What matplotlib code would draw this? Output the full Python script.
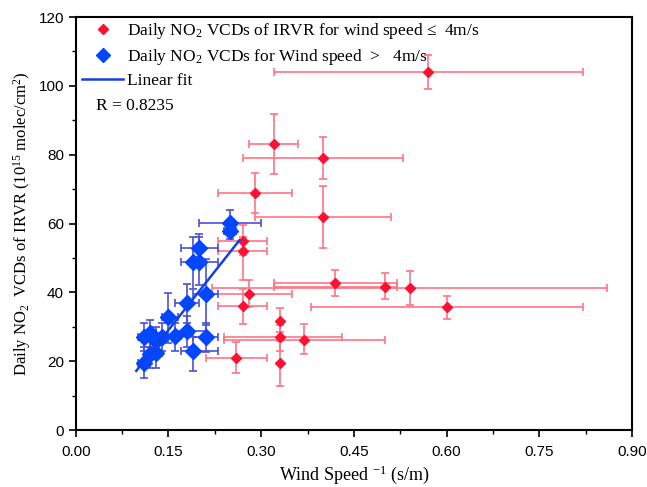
import matplotlib
matplotlib.use("Agg")
import matplotlib.pyplot as plt
import numpy as np
from matplotlib.lines import Line2D
from matplotlib.ticker import MultipleLocator, FormatStrFormatter

plt.rcParams["mathtext.fontset"] = "custom"
plt.rcParams["mathtext.rm"] = "Liberation Serif"
plt.rcParams["mathtext.it"] = "Liberation Serif:italic"

# Low wind speed (<= 4 m/s), red
red_x = [0.57, 0.32, 0.40, 0.29, 0.40, 0.27, 0.27, 0.28, 0.27, 0.26,
         0.33, 0.33, 0.33, 0.37, 0.42, 0.50, 0.54, 0.60]
red_y = [104, 83, 79, 69, 62, 55, 52, 39.6, 36, 21,
         31.8, 27, 19.5, 26.3, 42.6, 41.7, 41.2, 35.8]
red_xlo = [0.32, 0.28, 0.27, 0.23, 0.29, 0.23, 0.23, 0.22, 0.23, 0.21,
           0.33, 0.24, 0.33, 0.24, 0.32, 0.32, 0.22, 0.38]
red_xhi = [0.82, 0.36, 0.53, 0.35, 0.51, 0.31, 0.31, 0.35, 0.31, 0.31,
           0.33, 0.43, 0.33, 0.50, 0.52, 0.52, 0.86, 0.82]
red_ylo = [99, 74.4, 72.9, 63.1, 53, 51, 43.6, 35.7, 30.8, 16.7,
           28.5, 23, 12.8, 22, 38.9, 38.1, 36.3, 32.4]
red_yhi = [109, 91.7, 85.1, 74.6, 71, 59.6, 56, 43.6, 41, 25.7,
           35.4, 30.5, 26, 30.8, 46.4, 45.5, 46.2, 38.9]

# High wind speed (> 4 m/s), blue
blue_x = [0.25, 0.25, 0.20, 0.19, 0.20, 0.21, 0.18, 0.15, 0.18, 0.21,
          0.16, 0.19, 0.11, 0.12, 0.13, 0.14, 0.12, 0.13, 0.11]
blue_y = [60.3, 57.9, 53.0, 48.9, 48.9, 39.5, 36.8, 32.7, 28.8, 27.1,
          27.4, 22.9, 27.1, 28.3, 25.9, 27.1, 22.1, 22.3, 19.6]
blue_xlo = [0.20, 0.24, 0.17, 0.17, 0.19, 0.19, 0.16, 0.14, 0.16, 0.19,
            0.15, 0.17, 0.10, 0.11, 0.12, 0.13, 0.11, 0.12, 0.10]
blue_xhi = [0.30, 0.26, 0.23, 0.20, 0.23, 0.23, 0.20, 0.165, 0.21, 0.23,
            0.17, 0.23, 0.12, 0.13, 0.14, 0.15, 0.13, 0.14, 0.12]
blue_ylo = [57, 55.4, 49, 41, 42, 30.5, 31, 25.2, 24, 22.7,
            23, 17.1, 23, 24, 22, 23, 18, 18, 15]
blue_yhi = [64, 61, 57, 56, 56, 49.6, 42.3, 39.9, 33, 31,
            31, 27.1, 31, 32, 30, 31, 26, 26, 24]

# Linear fit of the blue points
fit_slope = 227.5
fit_intercept = -5.1
fit_x = [0.098, 0.265]
r_value = 0.8235

red_x, red_y = np.array(red_x), np.array(red_y)
blue_x, blue_y = np.array(blue_x), np.array(blue_y)

fig = plt.figure(figsize=(6.47, 4.87), dpi=100)
ax = fig.add_axes([0.117, 0.117, 0.860, 0.848])

ax.errorbar(red_x, red_y,
            xerr=[red_x - np.array(red_xlo), np.array(red_xhi) - red_x],
            yerr=[red_y - np.array(red_ylo), np.array(red_yhi) - red_y],
            fmt="none", ecolor="#ff7385", elinewidth=1.2, capsize=3, capthick=1.2, zorder=2)
ax.plot(red_x, red_y, "D", color="#ff1033", markersize=5.5, zorder=3)

ax.errorbar(blue_x, blue_y,
            xerr=[blue_x - np.array(blue_xlo), np.array(blue_xhi) - blue_x],
            yerr=[blue_y - np.array(blue_ylo), np.array(blue_yhi) - blue_y],
            fmt="none", ecolor="#4a4fd8", elinewidth=1.2, capsize=3, capthick=1.2, zorder=4)
ax.plot(blue_x, blue_y, "D", color="#0047ff", markersize=8, zorder=5)

fx = np.array(fit_x)
ax.plot(fx, fit_slope * fx + fit_intercept, color="#1540e0", lw=1.8, zorder=6)

ax.set_xlim(0, 0.9)
ax.set_ylim(0, 120)
ax.xaxis.set_major_locator(MultipleLocator(0.15))
ax.xaxis.set_minor_locator(MultipleLocator(0.075))
ax.yaxis.set_major_locator(MultipleLocator(20))
ax.yaxis.set_minor_locator(MultipleLocator(10))
ax.xaxis.set_major_formatter(FormatStrFormatter("%.2f"))
ax.tick_params(which="both", direction="out", top=False, right=False)
ax.tick_params(which="major", length=5, width=1.2, labelsize=11)
ax.tick_params(axis="x", which="major", pad=6)
ax.tick_params(which="minor", length=3, width=1.0)
for lab in ax.get_xticklabels() + ax.get_yticklabels():
    lab.set_fontfamily("Liberation Sans")
for s in ax.spines.values():
    s.set_linewidth(1.5)

ax.set_xlabel("Wind Speed $^{-1}$ (s/m)", fontsize=13, family="Liberation Serif",
              labelpad=3)
ax.set_ylabel("Daily NO$_2$  VCDs of IRVR (10$^{15}$ molec/cm$^2$)", fontsize=12,
              family="Liberation Serif")

handles = [
    Line2D([], [], ls="none", marker="D", color="#ff1033", markersize=5),
    Line2D([], [], ls="none", marker="D", color="#0047ff", markersize=7),
    Line2D([], [], color="#1540e0", lw=1.8),
]
labels = [
    "Daily NO$_2$ VCDs of IRVR for wind speed \u2264  4m/s",
    "Daily NO$_2$ VCDs for Wind speed  >   4m/s",
    "Linear fit",
]
leg = ax.legend(handles, labels, loc="upper left", frameon=False,
                prop={"family": "Liberation Serif", "size": 12.5},
                handlelength=2.4, handletextpad=0.2, labelspacing=0.35,
                borderpad=0, borderaxespad=0, bbox_to_anchor=(0.011, 0.99))
ax.text(0.036, 0.785, f"R = {r_value}", transform=ax.transAxes, fontsize=12.5,
        family="Liberation Serif", va="center")

fig.savefig("out.png", dpi=100)
